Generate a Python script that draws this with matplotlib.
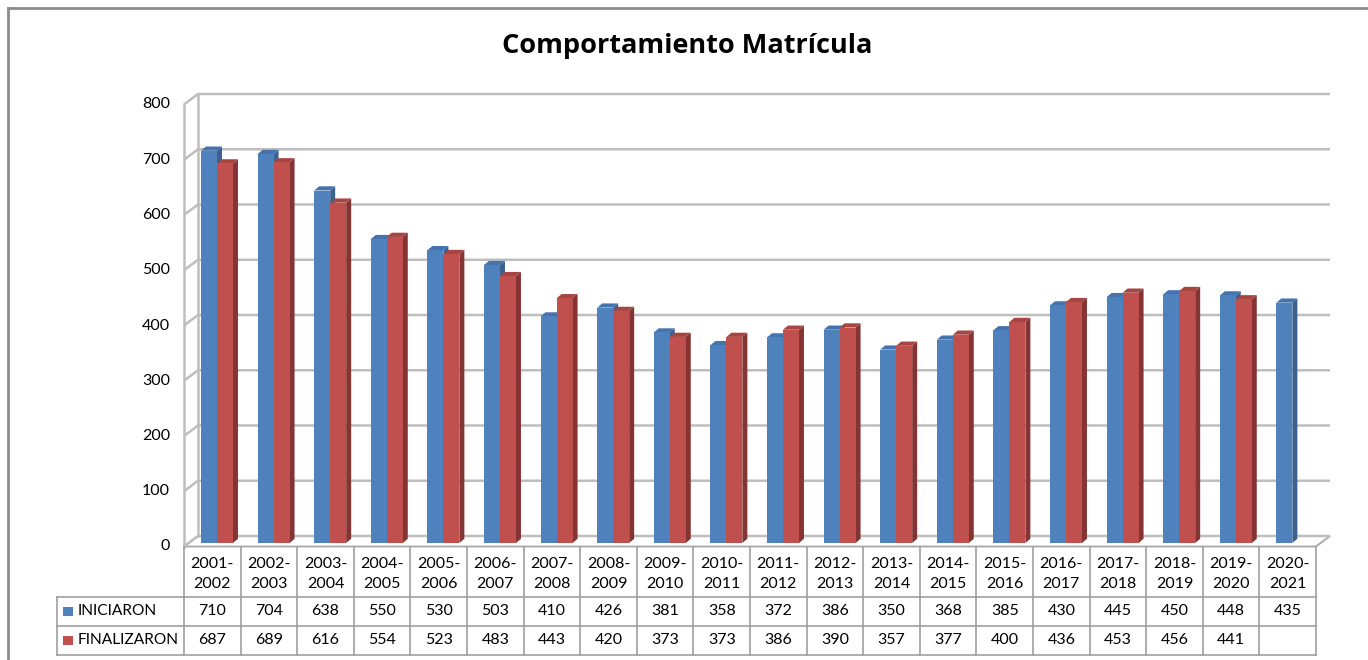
import matplotlib
matplotlib.use("Agg")
import matplotlib.pyplot as plt
from matplotlib.patches import Polygon, Rectangle
from matplotlib.lines import Line2D
import matplotlib.transforms as mtrans
import numpy as np

# ---------------- data ----------------
categories = ["2001-\n2002", "2002-\n2003", "2003-\n2004", "2004-\n2005", "2005-\n2006",
              "2006-\n2007", "2007-\n2008", "2008-\n2009", "2009-\n2010", "2010-\n2011",
              "2011-\n2012", "2012-\n2013", "2013-\n2014", "2014-\n2015", "2015-\n2016",
              "2016-\n2017", "2017-\n2018", "2018-\n2019", "2019-\n2020", "2020-\n2021"]
iniciaron = [710, 704, 638, 550, 530, 503, 410, 426, 381, 358, 372, 386, 350, 368, 385,
             430, 445, 450, 448, 435]
finalizaron = [687, 689, 616, 554, 523, 483, 443, 420, 373, 373, 386, 390, 357, 377, 400,
               436, 453, 456, 441, None]
series_names = ["INICIARON", "FINALIZARON"]
yticks = [0, 100, 200, 300, 400, 500, 600, 700, 800]
title = "Comportamiento Matrícula"

# ---------------- style ----------------
FONT = "Lato"
plt.rcParams["font.family"] = [FONT, "DejaVu Sans"]
W, H = 1368, 660
fig = plt.figure(figsize=(W / 100, H / 100), dpi=100)
fig.patch.set_facecolor("white")

def fx(px):
    return px / W

def fy(py):
    return 1 - py / H

front_left, front_right = 184, 1316
y0_px, ytop_px = 546.5, 104.5
ax = fig.add_axes([fx(front_left), fy(y0_px), fx(front_right - front_left),
                   (y0_px - ytop_px) / H])
n = len(categories)
ax.set_xlim(-0.5, n - 0.5)
ax.set_ylim(0, 800)
ax.axis("off")

cat_px = (front_right - front_left) / n
unit_px = (y0_px - ytop_px) / 800.0
DX = 14 / cat_px          # full depth offset (data x)
DY = 10.5 / unit_px       # full depth offset (data y)
grid_c = "#BEBEBE"

# floor
floor = Polygon([(-0.5, 0), (n - 0.5, 0), (n - 0.5 + DX, DY), (-0.5 + DX, DY)],
                closed=True, facecolor="white", edgecolor="#A6A6A6", lw=1.3,
                clip_on=False, zorder=1)
ax.add_patch(floor)

# gridlines (left wall diagonal + back wall horizontal)
for v in yticks:
    ax.plot([-0.5, -0.5 + DX, n - 0.5 + DX], [v, v + DY, v + DY], color=grid_c,
            lw=1.8, clip_on=False, zorder=1.5, solid_capstyle="butt")
# wall vertical edges
ax.plot([-0.5, -0.5], [0, 800], color=grid_c, lw=1.8, clip_on=False, zorder=1.5)
ax.plot([-0.5 + DX, -0.5 + DX], [DY, 800 + DY], color=grid_c, lw=1.8, clip_on=False, zorder=1.5)

# y tick labels
for v in yticks:
    ax.text(-0.5 - 14 / cat_px, v, str(v), ha="right", va="center", fontsize=11.5,
            color="#000000", clip_on=False)

# bars (pseudo 3D)
bw = 16 / cat_px
SX, SY = DX / 3, DY / 3
bdx, bdy = 5 / cat_px, 4.2 / unit_px
x = np.arange(n)
cols = {
    0: ("#4F81BD", "#3A6192", "#4573AE"),
    1: ("#C0504D", "#843432", "#A64542"),
}

def draw_bar(xc, val, s):
    front, side, top = cols[s]
    xl, xr = xc - bw / 2, xc + bw / 2
    b = SY
    ax.add_patch(Polygon([(xr, b), (xr, b + val), (xr + bdx, b + val + bdy), (xr + bdx, b + bdy)],
                         closed=True, facecolor=side, edgecolor="none", zorder=3))
    ax.add_patch(Polygon([(xl, b + val), (xr, b + val), (xr + bdx, b + val + bdy), (xl + bdx, b + val + bdy)],
                         closed=True, facecolor=top, edgecolor="none", zorder=3))

for i in range(n):
    for s, vals in enumerate([iniciaron, finalizaron]):
        val = vals[i]
        if val is None:
            continue
        xc = i + (s - 0.5) * bw + SX
        draw_bar(xc, val, s)
        ax.bar([xc], [val], width=bw, bottom=SY, color=cols[s][0], zorder=3,
               edgecolor="none")

# ---------------- data table ----------------
bt = mtrans.blended_transform_factory(ax.transData, fig.transFigure)
tcol = "#A0A0A0"
table_top, row1, row2, table_bot = 547, 597, 625.5, 655
label_left = 57
for k in range(n + 1):
    fig.add_artist(Line2D([k - 0.5, k - 0.5], [fy(table_top), fy(table_bot)],
                          transform=bt, color=tcol, lw=1.2))
for py in [row1, row2, table_bot]:
    fig.add_artist(Line2D([fx(label_left), fx(front_right)], [fy(py), fy(py)],
                          transform=fig.transFigure, color=tcol, lw=1.2))
fig.add_artist(Line2D([fx(label_left), fx(label_left)], [fy(row1), fy(table_bot)],
                      transform=fig.transFigure, color=tcol, lw=1.2))

for i, c in enumerate(categories):
    fig.text(i, fy(574), c, transform=bt, ha="center", va="center", fontsize=11.5,
             linespacing=1.55, color="#000000")
for r, (name, vals) in enumerate(zip(series_names, [iniciaron, finalizaron])):
    ymid = (row1 + row2) / 2 if r == 0 else (row2 + table_bot) / 2
    fig.add_artist(Rectangle((fx(63), fy(ymid + 5)), fx(9.5), 9.5 / H,
                             transform=fig.transFigure, facecolor=cols[r][0],
                             edgecolor="none"))
    fig.text(fx(78), fy(ymid), name, ha="left", va="center", fontsize=11.2, color="#000000")
    for i, v in enumerate(vals):
        if v is None:
            continue
        fig.text(i, fy(ymid), str(v), transform=bt, ha="center", va="center",
                 fontsize=11.5, color="#000000")

# title
fig.text(fx(687.5), fy(53), title, ha="center", va="baseline", fontsize=19.5,
         fontweight="bold", color="#000000", family=["Open Sans", "DejaVu Sans"])

# outer border (left and top)
fig.add_artist(Line2D([fx(7.5), fx(7.5)], [fy(7.5), 0], transform=fig.transFigure,
                      color="#8C8C8C", lw=2))
fig.add_artist(Line2D([fx(7.5), 1], [fy(7.5), fy(7.5)], transform=fig.transFigure,
                      color="#8C8C8C", lw=2))

fig.savefig("out.png", dpi=100, facecolor="white")
